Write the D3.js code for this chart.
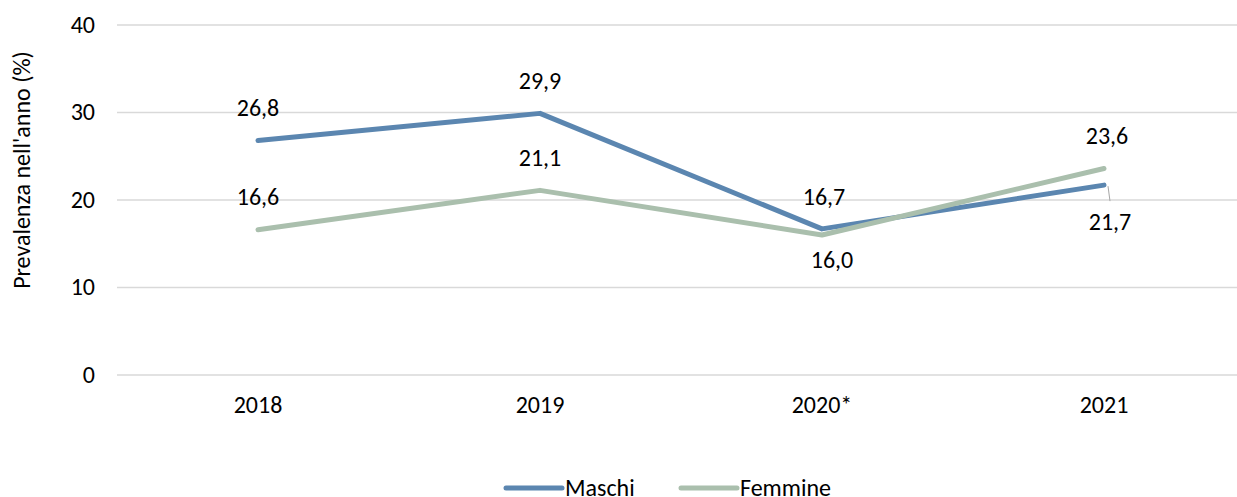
<!DOCTYPE html>
<html>
<head>
<meta charset="utf-8">
<script src="https://cdn.jsdelivr.net/npm/d3@7"></script>
<style>
  body { margin: 0; background: #fff; }
  text { font-family: Carlito, Calibri, "Open Sans", sans-serif; fill: #000; }
</style>
</head>
<body>
<svg id="chart" width="1237" height="497"></svg>
<script>
const years = ['2018', '2019', '2020*', '2021'];
const maschi = [26.8, 29.9, 16.7, 21.7];
const femmine = [16.6, 21.1, 16.0, 23.6];
const yTicks = [0, 10, 20, 30, 40];

// label placement per point: 'above' or 'below'
const maschiPos = ['above', 'above', 'above', 'below'];
const femminePos = ['above', 'above', 'below', 'above'];

const series = [
  { name: 'Maschi', values: maschi, pos: maschiPos, color: '#5b86b0' },
  { name: 'Femmine', values: femmine, pos: femminePos, color: '#aabfad' }
];

const fmt = v => d3.format('.1f')(v).replace('.', ',');
const fontSize = '24px';

const svg = d3.select('#chart');
const margin = { left: 117, right: -8, top: 25, bottom: 122 };
const width = +svg.attr('width');
const height = +svg.attr('height');

const x = d3.scalePoint()
  .domain(years)
  .range([margin.left, width - margin.right])
  .padding(0.5);

const y = d3.scaleLinear()
  .domain([0, 40])
  .range([height - margin.bottom, margin.top]);

// gridlines
svg.append('g')
  .selectAll('line')
  .data(yTicks)
  .join('line')
  .attr('x1', margin.left)
  .attr('x2', width)
  .attr('y1', d => y(d))
  .attr('y2', d => y(d))
  .attr('stroke', '#d9d9d9')
  .attr('stroke-width', 1.5);

// y tick labels
svg.append('g')
  .selectAll('text')
  .data(yTicks)
  .join('text')
  .attr('x', 95)
  .attr('y', d => y(d))
  .attr('dy', '0.32em')
  .attr('text-anchor', 'end')
  .style('font-size', fontSize)
  .text(d => d);

// x tick labels
svg.append('g')
  .selectAll('text')
  .data(years)
  .join('text')
  .attr('x', d => x(d))
  .attr('y', 405)
  .attr('dy', '0.32em')
  .attr('text-anchor', 'middle')
  .style('font-size', fontSize)
  .text(d => d);

// y axis title
svg.append('text')
  .attr('transform', `translate(22,${(margin.top + y(0)) / 2 - 30}) rotate(-90)`)
  .attr('text-anchor', 'middle')
  .attr('dy', '0.32em')
  .style('font-size', fontSize)
  .text("Prevalenza nell'anno (%)");

const line = d3.line()
  .x((d, i) => x(years[i]))
  .y(d => y(d));

svg.append('g')
  .selectAll('path')
  .data(series)
  .join('path')
  .attr('d', s => line(s.values))
  .attr('fill', 'none')
  .attr('stroke', s => s.color)
  .attr('stroke-width', 5)
  .attr('stroke-linejoin', 'round')
  .attr('stroke-linecap', 'round');

// leader line for the 2021 Maschi label
svg.append('line')
  .attr('x1', x('2021') + 4)
  .attr('y1', y(maschi[3]) + 1)
  .attr('x2', x('2021') + 6)
  .attr('y2', y(maschi[3]) + 16)
  .attr('stroke', '#a6a6a6')
  .attr('stroke-width', 1);

// data labels
const labels = [];
series.forEach(s => {
  s.values.forEach((v, i) => {
    labels.push({ v, i, pos: s.pos[i], name: s.name });
  });
});

const labelOffset = { 'Maschi-2': 2, 'Femmine-2': 10, 'Maschi-3': 6, 'Femmine-3': 3 };

svg.append('g')
  .selectAll('text')
  .data(labels)
  .join('text')
  .attr('x', d => x(years[d.i]) + (labelOffset[d.name + '-' + d.i] || 0))
  .attr('y', d => {
    if (d.name === 'Maschi' && d.i === 3) return y(d.v) + 37;
    return d.pos === 'above' ? y(d.v) - 32 : y(d.v) + 25;
  })
  .attr('dy', '0.32em')
  .attr('text-anchor', 'middle')
  .style('font-size', fontSize)
  .text(d => fmt(d.v));

// legend
const legend = svg.append('g');
const legendItems = [
  { name: 'Maschi', color: series[0].color, x: 506 },
  { name: 'Femmine', color: series[1].color, x: 681 }
];
const lg = legend.selectAll('g')
  .data(legendItems)
  .join('g')
  .attr('transform', d => `translate(${d.x},488)`);
lg.append('line')
  .attr('x1', 0).attr('x2', 56)
  .attr('stroke', d => d.color)
  .attr('stroke-width', 5)
  .attr('stroke-linecap', 'round');
lg.append('text')
  .attr('x', 59)
  .attr('dy', '0.32em')
  .style('font-size', fontSize)
  .text(d => d.name);
</script>
</body>
</html>
